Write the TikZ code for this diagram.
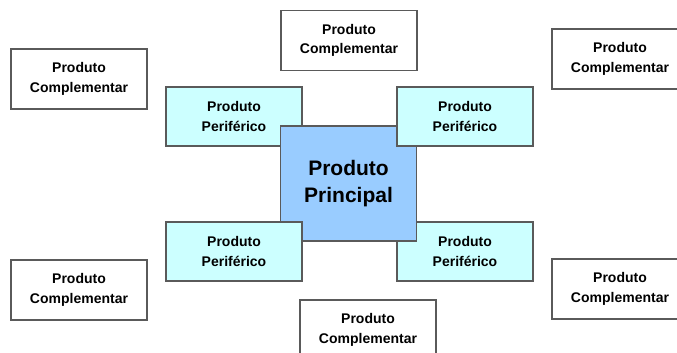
\documentclass[tikz,border=0pt]{standalone}
\usepackage{fontspec}
\setsansfont{Liberation Sans}
\usepackage{xcolor}
\usepackage{tikz}
\usetikzlibrary{positioning}
\definecolor{azulPrinc}{HTML}{99CCFF}
\definecolor{cianoPerif}{HTML}{CCFFFF}
\definecolor{bordaCinza}{HTML}{5A5A5A}

\begin{document}
\begin{tikzpicture}[x=1pt, y=-1pt,
    caixa/.style={draw=bordaCinza, line width=1.4pt, inner sep=0pt, align=center,
        minimum width=136pt, font=\sffamily\bfseries\fontsize{14}{19.5}\selectfont},
    compl/.style={caixa, fill=white, minimum height=60pt},
    perif/.style={caixa, fill=cianoPerif, minimum height=59pt},
    princ/.style={caixa, fill=azulPrinc, minimum height=115pt,
        font=\sffamily\bfseries\fontsize{21}{27}\selectfont}]
    \useasboundingbox (0,0) rectangle (677,353);
    \clip (0,0) rectangle (677,353);

    % Produtos complementares (anel esterno)
    \node[compl] (complNO) at (79,79) {Produto\\Complementar};
    \node[compl] (complN)  at (349,40.5) {Produto\\Complementar};
    \node[compl] (complNE) at (620,59) {Produto\\Complementar};
    \node[compl] (complSO) at (79,290) {Produto\\Complementar};
    \node[compl] (complSE) at (620,289) {Produto\\Complementar};
    \node[compl] (complS)  at (368,330) {Produto\\Complementar};

    % Produtos periféricos e produto principal (sobrepostos)
    \node[perif] (perifNO) at (234,116.5) {Produto\\Periférico};
    \node[perif] (perifSE) at (465,251.5) {Produto\\Periférico};
    \node[princ] (princ)   at (348.5,183.5) {Produto\\Principal};
    \node[perif] (perifNE) at (465,116.5) {Produto\\Periférico};
    \node[perif] (perifSO) at (234,251.5) {Produto\\Periférico};

\end{tikzpicture}
\end{document}
